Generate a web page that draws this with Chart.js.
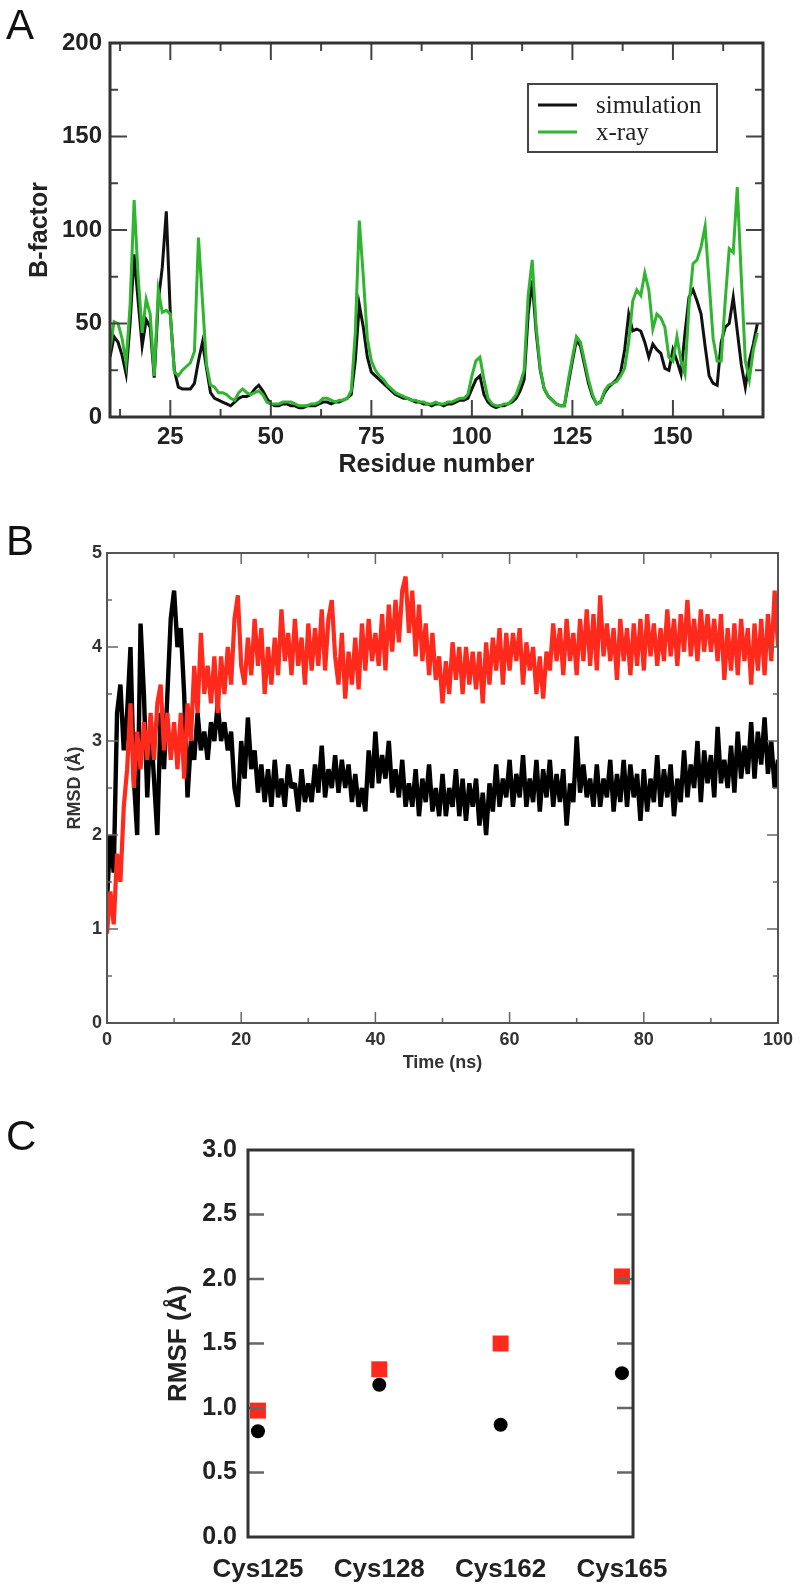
<!DOCTYPE html>
<html>
<head>
<meta charset="utf-8">
<title>B-factor, RMSD and RMSF</title>
<script src="https://cdn.jsdelivr.net/npm/chart.js@4.4.1/dist/chart.umd.min.js"></script>
<style>
  html, body { margin: 0; padding: 0; background: #fff; }
  body { position: relative; width: 800px; height: 1591px; overflow: hidden; }
  .panel { position: absolute; left: 0; width: 800px; }
  .tag { position: absolute; left: 6px; font: 42px "Liberation Sans", Arial, sans-serif; line-height: 1; color: #111; }
</style>
</head>
<body>
<div class="panel" style="top:0;height:480px"><canvas id="bfactorChart"></canvas></div>
<div class="panel" style="top:480px;height:600px"><canvas id="rmsdChart"></canvas></div>
<div class="panel" style="top:1080px;height:511px"><canvas id="rmsfChart"></canvas></div>
<div class="tag" style="top:4px">A</div>
<div class="tag" style="top:520px">B</div>
<div class="tag" style="top:1115px">C</div>

<script>
// ---- panel A : B-factor per residue (residues 10..172) ----
const firstResidue = 10;
const bfactorSim = [
  32, 43, 40, 33, 23, 50, 87, 62, 38, 52,
  48, 21, 62, 80, 110, 55, 25, 16, 15, 15,
  15, 18, 30, 40, 26, 13, 10, 9, 8, 7,
  6, 8, 10, 11, 11, 12, 15, 17, 14, 10,
  7, 6, 6, 7, 7, 6, 6, 5, 5, 6,
  6, 6, 7, 8, 8, 7, 8, 8, 9, 10,
  12, 30, 60, 48, 32, 24, 22, 20, 18, 16,
  14, 12, 11, 10, 10, 9, 8, 8, 7, 7,
  6, 7, 7, 6, 7, 7, 8, 9, 9, 10,
  15, 20, 22, 12, 8, 6, 5, 6, 6, 7,
  8, 10, 14, 20, 55, 73, 45, 25, 15, 11,
  9, 7, 6, 6, 18, 30, 41, 38, 28, 18,
  11, 7, 8, 13, 16, 18, 20, 24, 36, 55,
  46, 47, 46, 40, 32, 39, 36, 34, 26, 25,
  36, 30, 23, 45, 64, 68, 62, 55, 38, 22,
  18, 17, 40, 48, 50, 64, 46, 28, 16, 30,
  39, 50
];
const bfactorXray = [
  36, 51, 50, 42, 29, 60, 116, 75, 45, 63,
  55, 22, 68, 56, 57, 55, 24, 22, 25, 27,
  29, 35, 96, 62, 28, 17, 16, 13, 13, 12,
  10, 9, 13, 15, 13, 12, 13, 14, 12, 8,
  7, 7, 7, 8, 8, 8, 7, 6, 6, 6,
  7, 7, 8, 10, 10, 9, 8, 9, 9, 10,
  14, 45, 105, 75, 42, 30, 25, 22, 20, 17,
  15, 13, 12, 11, 10, 9, 9, 8, 8, 7,
  7, 8, 7, 7, 8, 8, 9, 10, 10, 12,
  22, 30, 32, 20, 10, 7, 6, 6, 7, 7,
  9, 12, 18, 25, 65, 84, 48, 26, 15, 11,
  9, 7, 6, 6, 20, 32, 43, 40, 30, 20,
  12, 7, 8, 14, 17, 18, 19, 22, 26, 40,
  62, 68, 65, 77, 68, 47, 55, 53, 48, 32,
  30, 43, 30, 23, 60, 82, 84, 91, 102, 72,
  42, 30, 30, 62, 90, 88, 123, 75, 30, 20,
  36, 45, 148
];
const residueTicks = [25, 50, 75, 100, 125, 150];
const bfactorTicks = [0, 50, 100, 150, 200];

// ---- panel B : RMSD over time, one value every 0.5 ns ----
const timeStepNs = 0.5;
const rmsdBlack = [
  1.3, 2.0, 1.6, 3.3, 3.6, 2.9, 3.3, 4.0, 2.6, 2.0,
  4.25, 3.5, 2.4, 3.2, 2.6, 2.0, 3.3, 2.7, 3.5, 4.3,
  4.6, 4.0, 4.2, 3.5, 2.4, 3.0, 2.8, 3.3, 2.9, 3.1,
  2.8, 3.2, 3.0, 3.4, 3.0, 3.2, 2.9, 3.1, 2.5, 2.3,
  3.0, 2.6, 3.25, 2.7, 2.9, 2.45, 2.75, 2.35, 2.7, 2.3,
  2.8, 2.4, 2.6, 2.3, 2.75, 2.5, 2.55, 2.25, 2.7, 2.35,
  2.55, 2.35, 2.75, 2.45, 2.95, 2.4, 2.7, 2.5, 2.85, 2.45,
  2.8, 2.5, 2.75, 2.35, 2.65, 2.3, 2.5, 2.25, 2.9, 2.5,
  3.1, 2.55, 2.85, 2.6, 3.0, 2.45, 2.7, 2.4, 2.8, 2.3,
  2.55, 2.3, 2.7, 2.2, 2.6, 2.35, 2.75, 2.25, 2.5, 2.2,
  2.65, 2.2, 2.5, 2.3, 2.7, 2.2, 2.6, 2.15, 2.55, 2.3,
  2.6, 2.1, 2.45, 2.0, 2.55, 2.25, 2.75, 2.3, 2.6, 2.4,
  2.8, 2.3, 2.65, 2.4, 2.85, 2.3, 2.6, 2.35, 2.8, 2.25,
  2.7, 2.4, 2.8, 2.3, 2.65, 2.35, 2.7, 2.1, 2.55, 2.35,
  3.05, 2.45, 2.75, 2.4, 2.6, 2.3, 2.75, 2.3, 2.6, 2.4,
  2.8, 2.25, 2.65, 2.35, 2.8, 2.3, 2.75, 2.4, 2.65, 2.15,
  2.7, 2.25, 2.6, 2.35, 2.85, 2.3, 2.7, 2.4, 2.75, 2.2,
  2.6, 2.35, 2.9, 2.4, 2.75, 2.5, 3.0, 2.35, 2.9, 2.55,
  2.85, 2.4, 3.15, 2.55, 2.8, 2.5, 2.95, 2.45, 3.1, 2.6,
  2.95, 2.65, 3.2, 2.6, 3.1, 2.75, 3.25, 2.65, 3.0, 2.5,
  2.8
];
const rmsdRed = [
  0.95, 1.4, 1.05, 1.8, 1.5, 2.3, 2.7, 3.4, 2.5, 3.1,
  2.7, 3.2, 2.8, 3.3, 2.8, 3.4, 3.6, 2.9, 3.3, 2.8,
  3.2, 2.7, 3.3, 2.6, 3.4, 3.0, 3.8, 3.3, 4.15, 3.5,
  3.8, 3.4, 3.9, 3.3, 3.9, 3.5, 4.0, 3.6, 4.3, 4.55,
  3.8, 3.6, 4.1, 3.7, 4.3, 3.8, 4.2, 3.5, 4.0, 3.6,
  4.1, 3.7, 4.4, 3.85, 4.15, 3.7, 4.3, 3.8, 4.1, 3.6,
  4.25, 3.75, 4.2, 3.8, 4.4, 3.75, 4.3, 4.5, 3.9, 3.6,
  4.15, 3.45, 3.95, 3.6, 4.1, 3.55, 4.25, 3.75, 4.3, 3.85,
  4.15, 3.8, 4.35, 3.75, 4.45, 3.95, 4.5, 4.05, 4.6, 4.75,
  4.15, 4.6, 3.9, 4.45, 3.85, 4.25, 3.7, 4.15, 3.65, 3.9,
  3.4, 3.85, 3.5, 4.05, 3.65, 4.0, 3.5, 4.0, 3.6, 3.95,
  3.55, 3.95, 3.4, 4.05, 3.6, 4.1, 3.75, 4.2, 3.6, 4.15,
  3.75, 4.15, 3.85, 4.2, 3.6, 4.05, 3.75, 4.0, 3.5, 3.9,
  3.45, 3.95, 3.75, 4.25, 3.85, 4.2, 3.7, 4.3, 3.85, 4.15,
  3.7, 4.3, 3.85, 4.4, 3.8, 4.35, 3.75, 4.55, 3.9, 4.25,
  3.85, 4.2, 3.65, 4.3, 3.85, 4.2, 3.7, 4.25, 3.8, 4.3,
  3.75, 4.35, 3.9, 4.25, 3.8, 4.2, 3.85, 4.4, 3.9, 4.3,
  3.8, 4.35, 3.95, 4.5, 3.9, 4.3, 3.85, 4.4, 3.95, 4.35,
  3.95, 4.3, 3.85, 4.35, 3.65, 4.2, 3.75, 4.25, 3.7, 4.3,
  3.85, 4.2, 3.6, 4.25, 3.75, 4.3, 3.7, 4.35, 3.85, 4.6,
  4.0
];

// ---- panel C : RMSF of the four cysteines ----
const cysteines = ["Cys125", "Cys128", "Cys162", "Cys165"];
const rmsfRed = [0.98, 1.30, 1.50, 2.02];
const rmsfBlack = [0.82, 1.18, 0.87, 1.27];

Chart.defaults.font.family = '"Liberation Sans", Arial, Helvetica, sans-serif';
Chart.defaults.font.weight = "bold";
Chart.defaults.color = "#222";

// inward tick marks on all four sides plus the closed frame
const boxTicks = {
  id: "boxTicks",
  afterDatasetsDraw(chart, args, o) {
    const { ctx, chartArea: a, scales } = chart;
    const marks = (scale, withMinor) => {
      const major = scale.ticks.map(t => t.value);
      const minor = [];
      if (withMinor && major.length > 1) {
        const step = major[1] - major[0];
        for (let v = major[0] - step / 2; v <= scale.max; v += step) {
          if (v > scale.min) minor.push(v);
        }
      }
      return { major, minor };
    };
    ctx.save();
    ctx.strokeStyle = o.tickColor;
    ctx.lineWidth = o.tickWidth;
    ctx.beginPath();
    if (o.xTicks) {
      const m = marks(scales.x, o.minor > 0);
      const put = (v, len) => {
        if (v <= scales.x.min || v >= scales.x.max) return;
        const px = scales.x.getPixelForValue(v);
        ctx.moveTo(px, a.bottom); ctx.lineTo(px, a.bottom - len);
        ctx.moveTo(px, a.top); ctx.lineTo(px, a.top + len);
      };
      m.major.forEach(v => put(v, o.major));
      m.minor.forEach(v => put(v, o.minor));
    }
    const my = marks(scales.y, o.minor > 0);
    const putY = (v, len) => {
      if (v <= scales.y.min || v >= scales.y.max) return;
      const py = scales.y.getPixelForValue(v);
      ctx.moveTo(a.left, py); ctx.lineTo(a.left + len, py);
      ctx.moveTo(a.right, py); ctx.lineTo(a.right - len, py);
    };
    my.major.forEach(v => putY(v, o.major));
    my.minor.forEach(v => putY(v, o.minor));
    ctx.stroke();
    ctx.lineWidth = o.borderWidth;
    ctx.strokeStyle = o.borderColor;
    ctx.strokeRect(a.left, a.top, a.right - a.left, a.bottom - a.top);
    ctx.restore();
  }
};

// framed legend in the upper right of panel A
const boxLegend = {
  id: "boxLegend",
  afterDraw(chart, args, o) {
    const { ctx, chartArea: a } = chart;
    const x = a.left + o.dx, y = a.top + o.dy;
    ctx.save();
    ctx.lineWidth = 2;
    ctx.strokeStyle = "#444";
    ctx.strokeRect(x, y, o.width, o.height);
    ctx.font = o.font;
    ctx.textBaseline = "alphabetic";
    chart.data.datasets.forEach((ds, i) => {
      const ly = y + 21 + i * 27;
      ctx.strokeStyle = ds.borderColor;
      ctx.lineWidth = 3;
      ctx.beginPath();
      ctx.moveTo(x + 10, ly);
      ctx.lineTo(x + 49, ly);
      ctx.stroke();
      ctx.fillStyle = "#222";
      ctx.fillText(ds.label, x + 68, ly + 8);
    });
    ctx.restore();
  }
};

const noGrid = { display: false, drawTicks: false };
const noBorder = { display: false };

// Panel A
const residues = bfactorSim.map((_, i) => firstResidue + i);
new Chart(document.getElementById("bfactorChart"), {
  type: "line",
  data: {
    datasets: [
      {
        label: "simulation",
        data: residues.map((r, i) => ({ x: r, y: bfactorSim[i] })),
        borderColor: "#111",
        borderWidth: 3,
        pointRadius: 0,
        order: 1
      },
      {
        label: "x-ray",
        data: residues.map((r, i) => ({ x: r, y: bfactorXray[i] })),
        borderColor: "#2fb52f",
        borderWidth: 3,
        pointRadius: 0,
        order: 0
      }
    ]
  },
  options: {
    responsive: true,
    maintainAspectRatio: false,
    animation: false,
    layout: { padding: { top: 43, right: 37, left: 0, bottom: 0 } },
    plugins: {
      legend: { display: false },
      tooltip: { enabled: false },
      boxTicks: { xTicks: true, major: 17, minor: 8, tickWidth: 2, tickColor: "#444", borderWidth: 3, borderColor: "#333" },
      boxLegend: { dx: 418, dy: 41, width: 189, height: 68, font: '25px "Liberation Serif", "Times New Roman", serif' }
    },
    scales: {
      x: {
        type: "linear",
        min: 10,
        max: 172.4,
        afterBuildTicks: s => { s.ticks = residueTicks.map(v => ({ value: v })); },
        afterFit: s => { s.height = 63; },
        grid: noGrid,
        border: noBorder,
        ticks: { padding: 6, autoSkip: false, maxRotation: 0, font: { size: 24 } },
        title: { display: true, text: "Residue number", font: { size: 25 }, padding: 0 }
      },
      y: {
        min: 0,
        max: 200,
        afterBuildTicks: s => { s.ticks = bfactorTicks.map(v => ({ value: v })); },
        afterFit: s => { s.width = 110; },
        grid: noGrid,
        border: noBorder,
        ticks: { padding: 8, font: { size: 24 } },
        title: { display: true, text: "B-factor", font: { size: 25 }, padding: { top: 25, bottom: 0 } }
      }
    }
  },
  plugins: [boxTicks, boxLegend]
});

// Panel B
const times = rmsdBlack.map((_, i) => i * timeStepNs);
new Chart(document.getElementById("rmsdChart"), {
  type: "line",
  data: {
    datasets: [
      {
        label: "run 1",
        data: times.map((t, i) => ({ x: t, y: rmsdBlack[i] })),
        borderColor: "#000",
        borderWidth: 4.4,
        borderJoinStyle: "bevel",
        pointRadius: 0,
        order: 1
      },
      {
        label: "run 2",
        data: times.map((t, i) => ({ x: t, y: rmsdRed[i] })),
        borderColor: "#ff2a1c",
        borderWidth: 4.2,
        borderJoinStyle: "bevel",
        pointRadius: 0,
        order: 0
      }
    ]
  },
  options: {
    responsive: true,
    maintainAspectRatio: false,
    animation: false,
    layout: { padding: { top: 73, right: 22, left: 0, bottom: 0 } },
    plugins: {
      legend: { display: false },
      tooltip: { enabled: false },
      boxTicks: { xTicks: true, major: 11, minor: 5, tickWidth: 1.5, tickColor: "#666", borderWidth: 2, borderColor: "#555" }
    },
    scales: {
      x: {
        type: "linear",
        min: 0,
        max: 100,
        afterFit: s => { s.height = 57; },
        grid: noGrid,
        border: noBorder,
        ticks: { stepSize: 20, padding: 6, maxRotation: 0, color: "#333", font: { size: 18 } },
        title: { display: true, text: "Time (ns)", color: "#333", font: { size: 18 }, padding: { top: 0, bottom: 6 } }
      },
      y: {
        min: 0,
        max: 5,
        afterFit: s => { s.width = 107; },
        grid: noGrid,
        border: noBorder,
        ticks: { stepSize: 1, padding: 5, color: "#333", font: { size: 18 } },
        title: { display: true, text: "RMSD (Å)", color: "#333", font: { size: 18 }, padding: { top: 64, bottom: 0 } }
      }
    }
  },
  plugins: [boxTicks]
});

// Panel C
new Chart(document.getElementById("rmsfChart"), {
  type: "scatter",
  data: {
    datasets: [
      {
        label: "run 1",
        data: cysteines.map((c, i) => ({ x: i + 1, y: rmsfBlack[i] })),
        pointStyle: "circle",
        pointRadius: 7,
        backgroundColor: "#000",
        borderWidth: 0,
        order: 0
      },
      {
        label: "run 2",
        data: cysteines.map((c, i) => ({ x: i + 1, y: rmsfRed[i] })),
        pointStyle: "rect",
        pointRadius: 11.3,
        backgroundColor: "#ff2a1c",
        borderWidth: 0,
        order: 1
      }
    ]
  },
  options: {
    responsive: true,
    maintainAspectRatio: false,
    animation: false,
    layout: { padding: { top: 70, right: 167, left: 0, bottom: 0 } },
    plugins: {
      legend: { display: false },
      tooltip: { enabled: false },
      boxTicks: { xTicks: false, major: 16, minor: 0, tickWidth: 2.5, tickColor: "#666", borderWidth: 3, borderColor: "#333" }
    },
    scales: {
      x: {
        type: "linear",
        min: 0.918,
        max: 4.091,
        afterBuildTicks: s => { s.ticks = cysteines.map((c, i) => ({ value: i + 1 })); },
        afterFit: s => { s.height = 54; },
        grid: noGrid,
        border: noBorder,
        ticks: { padding: 17, autoSkip: false, maxRotation: 0, font: { size: 26 }, callback: v => cysteines[v - 1] }
      },
      y: {
        min: 0,
        max: 3,
        afterFit: s => { s.width = 248; },
        grid: noGrid,
        border: noBorder,
        ticks: { stepSize: 0.5, padding: 11, font: { size: 25 }, callback: v => v.toFixed(1) },
        title: { display: true, text: "RMSF (Å)", font: { size: 26 }, padding: { top: 163, bottom: 0 } }
      }
    }
  },
  plugins: [boxTicks]
});
</script>
</body>
</html>
